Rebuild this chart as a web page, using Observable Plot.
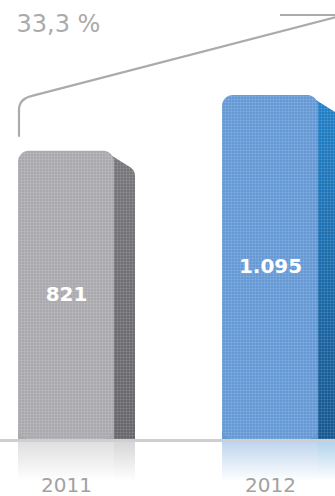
<!DOCTYPE html>
<html>
<head>
<meta charset="utf-8">
<script src="https://cdn.jsdelivr.net/npm/d3@7"></script>
<script src="https://cdn.jsdelivr.net/npm/@observablehq/plot@0.6"></script>
<style>
  html, body { margin: 0; padding: 0; background: #fff; }
  #chart svg { display: block; }
</style>
</head>
<body>
<svg width="0" height="0" style="position:absolute">
  <defs>
    <pattern id="grid" width="3" height="3" patternUnits="userSpaceOnUse">
      <rect x="0" y="0" width="3" height="1" fill="#ffffff" fill-opacity="0.10"></rect>
      <rect x="0" y="0" width="1" height="3" fill="#ffffff" fill-opacity="0.10"></rect>
    </pattern>
    <linearGradient id="sideGrey" x1="0" y1="0" x2="0" y2="1">
      <stop offset="0" stop-color="#76767b"></stop>
      <stop offset="1" stop-color="#66666b"></stop>
    </linearGradient>
    <linearGradient id="sideBlue" x1="0" y1="0" x2="0" y2="1">
      <stop offset="0" stop-color="#2080c8"></stop>
      <stop offset="1" stop-color="#15568f"></stop>
    </linearGradient>
    <linearGradient id="reflGrey" x1="0" y1="0" x2="0" y2="1">
      <stop offset="0" stop-color="#a9a9ae" stop-opacity="0.38"></stop>
      <stop offset="1" stop-color="#a9a9ae" stop-opacity="0"></stop>
    </linearGradient>
    <linearGradient id="reflBlue" x1="0" y1="0" x2="0" y2="1">
      <stop offset="0" stop-color="#6499d5" stop-opacity="0.42"></stop>
      <stop offset="1" stop-color="#6499d5" stop-opacity="0"></stop>
    </linearGradient>
    <linearGradient id="reflGreySide" x1="0" y1="0" x2="0" y2="1">
      <stop offset="0" stop-color="#76767b" stop-opacity="0.30"></stop>
      <stop offset="1" stop-color="#76767b" stop-opacity="0"></stop>
    </linearGradient>
    <linearGradient id="reflBlueSide" x1="0" y1="0" x2="0" y2="1">
      <stop offset="0" stop-color="#2080c8" stop-opacity="0.35"></stop>
      <stop offset="1" stop-color="#2080c8" stop-opacity="0"></stop>
    </linearGradient>
  </defs>
</svg>
<div id="chart"></div>
<script>
// ---- data ----
const years = ["2011", "2012"];
const values = [821, 1095];
const valueLabels = ["821", "1.095"];
const growthLabel = "33,3 %";

// ---- styles ----
const frontColors = ["#a9a9ae", "#6499d5"];
const sideFills = ["url(#sideGrey)", "url(#sideBlue)"];
const reflFills = ["url(#reflGrey)", "url(#reflBlue)"];
const reflSideFills = ["url(#reflGreySide)", "url(#reflBlueSide)"];

const data = years.map((year, i) => ({year, value: values[i], label: valueLabels[i], i}));
const yFloor = -593; // bottom of the value scale (bars are not drawn from zero in the original)

const W = 335, H = 496;

// side faces + reflections, drawn from the scales
function decor(index, scales, vals, dims) {
  const {x, y} = scales;
  const bw = x.bandwidth();
  const base = y(yFloor);
  const g = d3.create("svg:g");
  for (const d of data) {
    const x0 = x(d.year), x1 = x0 + bw, top = y(d.value);
    const w = 21, drop = 20;
    // reflection
    g.append("rect").attr("x", x0).attr("y", base + 2).attr("width", bw).attr("height", 40)
      .attr("fill", reflFills[d.i]);
    g.append("rect").attr("x", x1).attr("y", base + 2).attr("width", w).attr("height", 40)
      .attr("fill", reflSideFills[d.i]);
    // side face
    const p = `M${x1 - 10},${top} L${x1 + w - 4},${top + drop - 3} Q${x1 + w},${top + drop} ${x1 + w},${top + drop + 5} L${x1 + w},${base} L${x1 - 10},${base} Z`;
    g.append("path").attr("d", p).attr("fill", sideFills[d.i]);
    g.append("path").attr("d", p).attr("fill", "url(#grid)");
  }
  return g.node();
}

// connector annotation from the 2011 bar towards the right
function connector(index, scales, vals, dims) {
  const {x, y} = scales;
  const sx = x("2011") + 1;
  const sy = y(values[0]) - 14;
  const by = sy - 27;
  const ey = y(values[1]) - 79;
  const g = d3.create("svg:g").attr("fill", "none").attr("stroke", "#ababab").attr("stroke-width", 2.2);
  g.append("path")
    .attr("d", `M${sx},${sy} L${sx},${by} Q${sx},${by - 11} ${sx + 13},${by - 14} L${dims.width + 5},${ey}`);
  g.append("path")
    .attr("d", `M${dims.width - 55},${ey - 1} L${dims.width},${ey - 1}`);
  return g.node();
}

const chart = Plot.plot({
  width: W,
  height: H,
  margin: 0,
  x: {type: "band", domain: years, range: [18, 318], paddingInner: 0.53, paddingOuter: 0, axis: null},
  y: {domain: [yFloor, values[1]], range: [439, 95], axis: null},
  marks: [
    decor,
    Plot.barY(data, {x: "year", y1: yFloor, y2: "value", fill: d => frontColors[d.i], rx: 11}),
    Plot.barY(data, {x: "year", y1: yFloor, y2: "value", fill: d => frontColors[d.i], insetTop: 14}),
    Plot.barY(data, {x: "year", y1: yFloor, y2: "value", fill: "url(#grid)", rx: 11}),
    Plot.ruleY([yFloor], {stroke: "#cfcfcf", strokeWidth: 3, dy: 1}),
    Plot.text(data, {
      x: "year", y: d => (d.value + yFloor) / 2, text: "label", ariaLabel: "value labels",
      fill: "#ffffff", fontSize: 20, fontWeight: "bold", fontFamily: "DejaVu Sans", dy: -1
    }),
    Plot.text(data, {
      x: "year", y: yFloor, text: "year", ariaLabel: "year labels",
      fill: "#a2a2a2", fontSize: 20, fontFamily: "DejaVu Sans", dy: 46
    }),
    connector,
    Plot.text([growthLabel], {
      frameAnchor: "top-left", text: d => d, textAnchor: "start", lineAnchor: "top",
      dx: 16, dy: 14, fontSize: 24, fill: "#aaaaaa", fontFamily: "DejaVu Sans", ariaLabel: "growth label"
    })
  ]
});

d3.select(chart).selectAll('g[aria-label="year labels"] text').style("letter-spacing", "1.5px");
d3.select(chart).selectAll('g[aria-label="value labels"] text').style("letter-spacing", "1px");
d3.select(chart).selectAll('g[aria-label="growth label"] text').style("letter-spacing", "2.5px");

document.getElementById("chart").appendChild(chart);
</script>
</body>
</html>
